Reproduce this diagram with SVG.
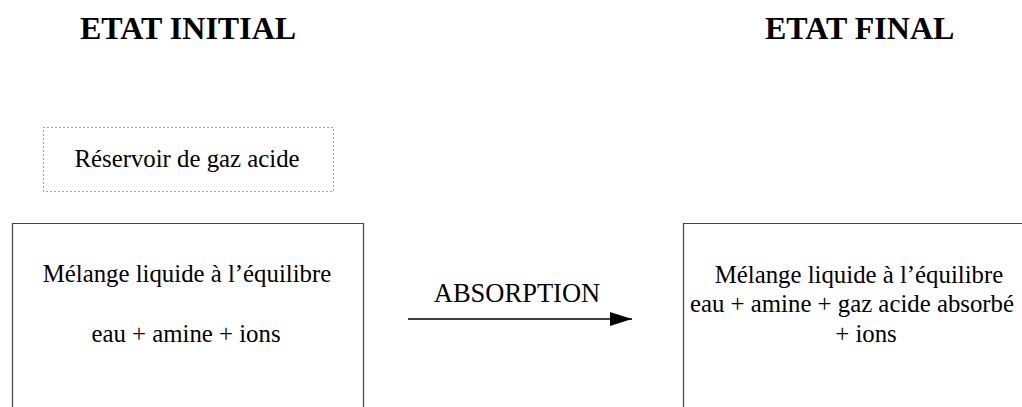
<svg xmlns="http://www.w3.org/2000/svg" width="1022" height="407" viewBox="0 0 1022 407">
<style>
text{font-family:"Liberation Serif","Times New Roman",serif;fill:#000}
.title{font-size:32px;font-weight:bold}
.lbl{font-size:24.8px;text-anchor:middle}
.box{fill:none;stroke:#444;stroke-width:1.2}
.dot{fill:none;stroke:#444;stroke-width:1;stroke-dasharray:1 3}
.conn{stroke:#000;stroke-width:1.6;fill:none}
</style>
<defs>
<marker id="ah" markerWidth="22" markerHeight="14" refX="22" refY="7" orient="auto" markerUnits="userSpaceOnUse">
<path d="M0,0 L22,7 L0,14 Z" fill="#000"/>
</marker>
</defs>
<g id="title-initial"><text class="title" x="80" y="39">ETAT INITIAL</text></g>
<g id="title-final"><text class="title" x="765" y="39">ETAT FINAL</text></g>
<g id="reservoir">
<rect class="dot" x="43.5" y="127.5" width="290" height="64"/>
<text class="lbl" x="187" y="167">Réservoir de gaz acide</text>
</g>
<g id="initial">
<path class="box" d="M12.5,407 V223.5 H363.5 V407"/>
<text class="lbl" x="187" y="282">Mélange liquide à l’équilibre</text>
<text class="lbl" x="186" y="342">eau + amine + ions</text>
</g>
<g id="final">
<path class="box" d="M683.5,407 V223.5 H1030"/>
<text class="lbl" x="859" y="283">Mélange liquide à l’équilibre</text>
<text class="lbl" x="852" y="312">eau + amine + gaz acide absorbé</text>
<text class="lbl" x="866" y="342">+ ions</text>
</g>
<g id="connectors">
<line class="conn" x1="408" y1="319" x2="632" y2="319" marker-end="url(#ah)"/>
<text class="lbl" x="517" y="302" style="font-size:26.5px">ABSORPTION</text>
</g>
</svg>
